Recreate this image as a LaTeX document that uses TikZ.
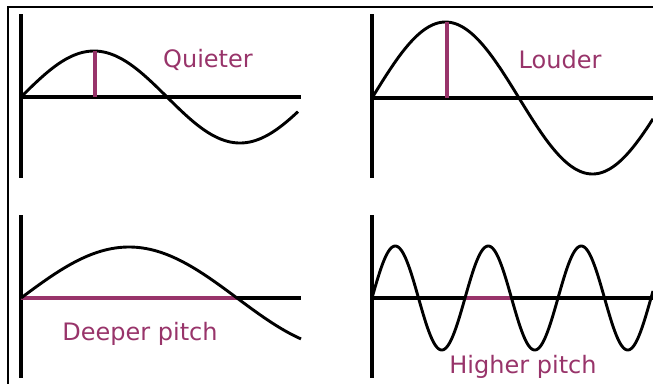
\documentclass[tikz,border=0pt]{standalone}
\usepackage{fontspec}
\setmainfont{DejaVu Sans}
\definecolor{wavepurple}{RGB}{152,52,106}
\tikzset{
  axis/.style={line width=3.4pt, black},
  wave/.style={line width=2.9pt, black, line join=round},
  marker/.style={line width=3.2pt, wavepurple},
  lbl/.style={text=wavepurple, font=\fontsize{24}{27}\selectfont, inner sep=0pt},
  frame/.style={line width=2pt, black}
}
\begin{document}
\begin{tikzpicture}[x=1pt,y=-1pt]
\useasboundingbox (0,0) rectangle (653,384);
% frame
\coordinate (ftl) at (8,6.5);
\coordinate (ftr) at (653,6.5);
\coordinate (fbl) at (8,384);
\draw[frame] (ftr) -- (ftl) -- (fbl);

% ---- top left: quieter ----
\coordinate (a1t) at (21,14);
\coordinate (a1b) at (21,178);
\coordinate (a1o) at (21,97);
\coordinate (a1e) at (301,97);
\draw[axis] (a1t) -- (a1b);
\draw[axis] (a1o) -- (a1e);
\draw[wave] plot[domain=0:277, samples=120] ({\x+21}, {97-46*sin(\x/146*180)});
\coordinate (m1t) at (95,51);
\coordinate (m1b) at (95,97);
\draw[marker] (m1t) -- (m1b);
\node[lbl] (quiet) at (208,60) {Quieter};

% ---- top right: louder ----
\coordinate (a2t) at (372,14);
\coordinate (a2b) at (372,178);
\coordinate (a2o) at (372,98);
\coordinate (a2e) at (653,98);
\draw[axis] (a2t) -- (a2b);
\draw[axis] (a2o) -- (a2e);
\draw[wave] plot[domain=0:281, samples=120] ({\x+372}, {98-76*sin(\x/147*180)});
\coordinate (m2t) at (447,22);
\coordinate (m2b) at (447,98);
\draw[marker] (m2t) -- (m2b);
\node[lbl] (loud) at (560,60) {Louder};

% ---- bottom left: deeper pitch ----
\coordinate (a3t) at (21,215);
\coordinate (a3b) at (21,378);
\coordinate (a3o) at (21,298);
\coordinate (a3e) at (301,298);
\coordinate (a3z) at (237,298);
\draw[axis] (a3t) -- (a3b);
\draw[axis] (a3o) -- (a3e);
\draw[marker] (a3o) -- (a3z);
\draw[wave] plot[domain=0:280, samples=120] ({\x+21}, {298-51*sin(\x/216*180)});
\node[lbl] (deep) at (140,334) {Deeper pitch};

% ---- bottom right: higher pitch ----
\coordinate (a4t) at (372,215);
\coordinate (a4b) at (372,378);
\coordinate (a4o) at (372,298);
\coordinate (a4e) at (653,298);
\coordinate (m4a) at (465,298);
\coordinate (m4b) at (511,298);
\draw[axis] (a4t) -- (a4b);
\draw[axis] (a4o) -- (a4e);
\draw[marker] (m4a) -- (m4b);
\draw[wave] plot[domain=0:281, samples=300] ({\x+372}, {298-52*sin(\x/46.5*180)});
\node[lbl] (high) at (523,367) {Higher pitch};
\end{tikzpicture}
\end{document}
